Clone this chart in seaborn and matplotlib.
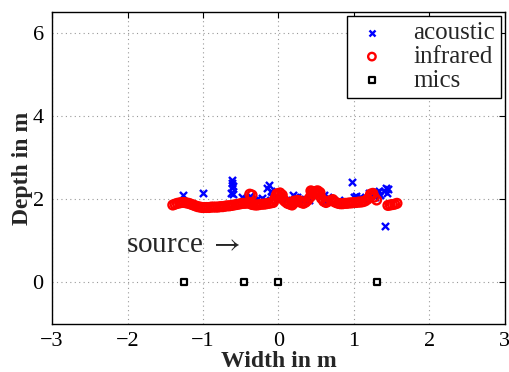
import matplotlib
matplotlib.use("Agg")
import matplotlib.pyplot as plt
import seaborn as sns
import pandas as pd

sns.set_style("white")
plt.rcParams['font.family'] = ['Liberation Serif', 'DejaVu Serif']
plt.rcParams['mathtext.fontset'] = 'stix'

# infrared track (x, y)
ir_x = [-1.40, -1.37, -1.34, -1.31, -1.28, -1.25, -1.22, -1.19, -1.16, -1.13,
        -1.10, -1.07, -1.04, -1.01, -0.98, -0.95, -0.92, -0.89, -0.86, -0.83,
        -0.80, -0.77, -0.74, -0.71, -0.68, -0.65, -0.62, -0.59, -0.56, -0.53,
        -0.50, -0.47, -0.44, -0.41, -0.38, -0.36, -0.34, -0.31, -0.28, -0.25,
        -0.22, -0.19, -0.16, -0.13, -0.10, -0.07, -0.05, -0.03, 0.00, 0.03,
        0.06, 0.08, 0.10, 0.12, 0.15, 0.18, 0.20, 0.22, 0.25, 0.28,
        0.30, 0.33, 0.36, 0.39, 0.42, 0.45, 0.48, 0.51, 0.54, 0.57,
        0.60, 0.63, 0.66, 0.70, 0.73, 0.76, 0.79, 0.82, 0.85, 0.88,
        0.91, 0.94, 0.97, 1.00, 1.03, 1.06, 1.09, 1.12, 1.15, 1.18,
        1.21, 1.24, 1.27, 1.30, 1.45, 1.48, 1.51, 1.54, 1.57,
        -0.38, -0.35, -0.02, 0.02, 0.05, 0.45, 0.50, 0.55, 0.20, 1.22,
        1.25, 0.72, 0.43, 0.52]
ir_y = [1.86, 1.88, 1.90, 1.91, 1.92, 1.92, 1.91, 1.90, 1.88, 1.86,
        1.84, 1.82, 1.81, 1.80, 1.80, 1.80, 1.80, 1.81, 1.81, 1.81,
        1.81, 1.82, 1.82, 1.83, 1.84, 1.84, 1.85, 1.86, 1.87, 1.88,
        1.89, 1.90, 1.90, 1.91, 1.90, 1.88, 1.87, 1.86, 1.86, 1.87,
        1.88, 1.88, 1.89, 1.90, 1.91, 1.92, 2.00, 2.08, 2.10, 2.05,
        2.00, 1.96, 1.93, 1.90, 1.88, 1.86, 1.90, 1.95, 1.97, 1.96,
        1.92, 1.90, 1.93, 1.98, 2.05, 2.12, 2.16, 2.14, 2.10, 2.02,
        1.95, 1.92, 1.95, 1.97, 1.95, 1.92, 1.90, 1.89, 1.89, 1.90,
        1.90, 1.91, 1.91, 1.92, 1.92, 1.93, 1.93, 1.94, 1.96, 2.00,
        2.06, 2.10, 2.05, 1.98, 1.85, 1.86, 1.87, 1.88, 1.90,
        2.12, 2.10, 2.13, 2.15, 2.10, 2.18, 2.19, 2.16, 1.95, 2.12,
        2.14, 1.99, 2.20, 2.20]

# acoustic estimates (x, y)
ac_x = [-1.27, -1.00, -0.62, -0.61, -0.60, -0.62, -0.63, -0.60, -0.48, -0.42,
        -0.38, -0.32, -0.28, -0.22, -0.18, -0.15, -0.13, -0.10, -0.08, 0.00,
        0.05, 0.10, 0.19, 0.22, 0.25, 0.32, 0.35, 0.40, 0.60, 0.62,
        0.65, 0.80, 0.98, 1.00, 1.03, 1.08, 1.12, 1.20, 1.28, 1.30,
        1.33, 1.35, 1.40, 1.42, 1.44, 1.45, 1.41]
ac_y = [2.10, 2.15, 2.45, 2.38, 2.32, 2.27, 2.15, 2.12, 2.05, 2.00,
        2.08, 1.98, 2.00, 2.02, 1.98, 2.28, 2.33, 2.20, 2.05, 2.00,
        2.02, 1.98, 2.10, 2.05, 2.05, 1.93, 2.00, 1.98, 2.10, 1.92,
        2.05, 1.98, 2.42, 2.05, 2.08, 2.05, 2.00, 2.15, 2.05, 2.17,
        2.20, 2.10, 2.20, 2.28, 2.15, 2.25, 1.35]

# microphone positions
mic_x = [-1.25, -0.45, 0.00, 1.30]
mic_y = [0.0, 0.0, 0.0, 0.0]

df_ac = pd.DataFrame({"x": ac_x, "y": ac_y})
df_ir = pd.DataFrame({"x": ir_x, "y": ir_y})
df_mic = pd.DataFrame({"x": mic_x, "y": mic_y})

fig = plt.figure(figsize=(5.1, 3.72), dpi=100)
ax = fig.add_axes([0.102, 0.129, 0.888, 0.839])

sns.scatterplot(data=df_ac, x="x", y="y", ax=ax, marker="x", color="#0000ff",
                s=26, linewidth=1.7, label="acoustic", zorder=3)
sns.scatterplot(data=df_ir, x="x", y="y", ax=ax, marker="o", facecolor="none",
                edgecolor="#ff0000", s=40, linewidth=1.7, label="infrared", zorder=4)
sns.scatterplot(data=df_mic, x="x", y="y", ax=ax, marker="s", facecolor="white",
                edgecolor="black", s=24, linewidth=1.6, label="mics", zorder=5)

ax.text(-2.02, 0.73, "source $\\rightarrow$", fontsize=21, ha="left", va="baseline")

ax.set_xlim(-3, 3)
ax.set_ylim(-1, 6.5)
ax.set_xticks([-3, -2, -1, 0, 1, 2, 3])
ax.set_yticks([0, 2, 4, 6])
ax.set_xticklabels(["\u22123", "\u22122", "\u22121", "0", "1", "2", "3"])
ax.tick_params(direction="in", length=4, width=0.8, labelsize=16, top=True, right=True,
               colors="black", pad=6)
ax.grid(True, linestyle=(0, (1, 3)), color="#999999", linewidth=0.8)
for s in ax.spines.values():
    s.set_color("black")
    s.set_linewidth(1.0)

ax.set_xlabel("Width in m", fontsize=17, fontweight="bold", labelpad=0)
ax.set_ylabel("Depth in m", fontsize=17, fontweight="bold", labelpad=0)

leg = ax.legend(loc="upper right", fontsize=18, frameon=True, fancybox=False,
                edgecolor="black", framealpha=1, borderaxespad=0.15,
                handlelength=1.5, handletextpad=0.9, borderpad=0.25,
                labelspacing=0.05, markerscale=0.85)
leg.get_frame().set_linewidth(1.0)

fig.savefig("out.png", dpi=100)
